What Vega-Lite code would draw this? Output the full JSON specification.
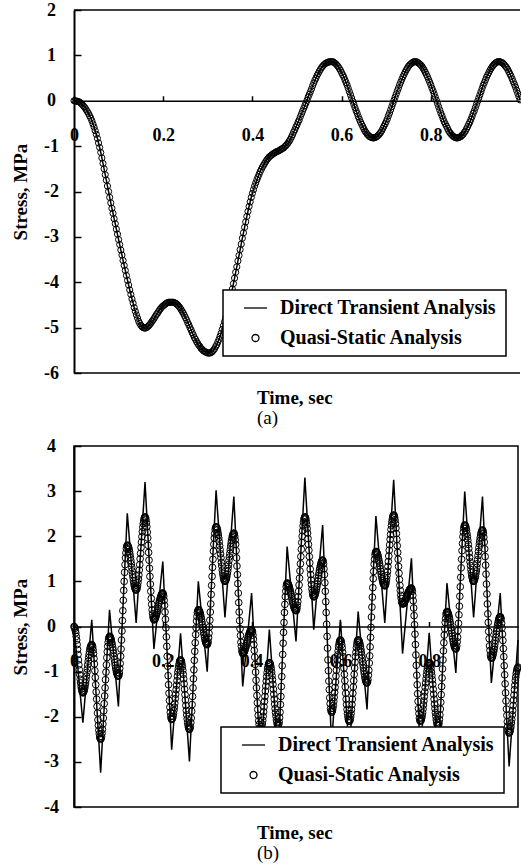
{
  "$schema": "https://vega.github.io/schema/vega-lite/v6.json",
  "background": "white",
  "padding": {"left": 10, "top": 1, "right": 0, "bottom": 0},
  "bounds": "flush",
  "spacing": 73,
  "resolve": {
    "scale": {"x": "independent", "y": "independent", "shape": "independent"},
    "legend": {"shape": "independent"},
    "axis": {"x": "independent", "y": "independent"}
  },
  "config": {
    "view": {"stroke": "black", "strokeWidth": 1.5},
    "axis": {
      "grid": false, "domainColor": "black", "tickColor": "black",
      "labelColor": "black", "titleColor": "black",
      "labelFont": "Liberation Serif", "labelFontWeight": "bold", "labelFontSize": 18,
      "titleFont": "Liberation Serif", "titleFontWeight": "bold", "titleFontSize": 19,
      "labelFlush": false, "labelOverlap": false
    },
    "axisX": {"tickSize": -5, "tickWidth": 1.5, "domainWidth": 1.5, "labelBaseline": "middle", "labelPadding": 39.5},
    "axisY": {"tickSize": -7, "tickWidth": 1.5, "domainWidth": 2, "labelAlign": "center", "labelPadding": 30, "titlePadding": 13},
    "legend": {
      "orient": "none", "strokeColor": "black", "strokeWidth": 1.5, "fillColor": "white",
      "padding": 8, "symbolOffset": 14.5, "symbolSize": 49, "symbolStrokeColor": "black",
      "symbolStrokeWidth": 1.3, "symbolFillColor": "transparent",
      "labelFont": "Liberation Serif", "labelFontSize": 20, "labelFontWeight": "bold",
      "labelColor": "black", "labelOffset": 14.5, "rowPadding": 10, "labelLimit": 400
    },
    "title": {
      "font": "Liberation Serif", "fontSize": 19, "fontWeight": "bold", "color": "black",
      "subtitleFont": "Liberation Serif", "subtitleFontSize": 19, "subtitleFontWeight": "normal",
      "subtitleColor": "black", "subtitlePadding": 1
    }
  },
  "datasets": {
    "a": [
      {"t":0,"v":0},{"t":0.0025,"v":0},{"t":0.005,"v":-0.01},{"t":0.0075,"v":-0.01},{"t":0.01,"v":-0.02},{"t":0.0125,"v":-0.03},{"t":0.015,"v":-0.05},{"t":0.0175,"v":-0.07},
      {"t":0.02,"v":-0.1},{"t":0.0225,"v":-0.13},{"t":0.025,"v":-0.16},{"t":0.0275,"v":-0.2},{"t":0.03,"v":-0.24},{"t":0.0325,"v":-0.28},{"t":0.035,"v":-0.33},{"t":0.0375,"v":-0.38},
      {"t":0.04,"v":-0.44},{"t":0.0425,"v":-0.51},{"t":0.045,"v":-0.58},{"t":0.0475,"v":-0.66},{"t":0.05,"v":-0.74},{"t":0.0525,"v":-0.83},{"t":0.055,"v":-0.93},{"t":0.0575,"v":-1.03},
      {"t":0.06,"v":-1.14},{"t":0.0625,"v":-1.26},{"t":0.065,"v":-1.38},{"t":0.0675,"v":-1.5},{"t":0.07,"v":-1.63},{"t":0.0725,"v":-1.75},{"t":0.075,"v":-1.88},{"t":0.0775,"v":-2.0},
      {"t":0.08,"v":-2.13},{"t":0.0825,"v":-2.25},{"t":0.085,"v":-2.37},{"t":0.0875,"v":-2.48},{"t":0.09,"v":-2.6},{"t":0.0925,"v":-2.71},{"t":0.095,"v":-2.83},{"t":0.0975,"v":-2.94},
      {"t":0.1,"v":-3.06},{"t":0.1025,"v":-3.17},{"t":0.105,"v":-3.29},{"t":0.1075,"v":-3.4},{"t":0.11,"v":-3.52},{"t":0.1125,"v":-3.63},{"t":0.115,"v":-3.74},{"t":0.1175,"v":-3.85},
      {"t":0.12,"v":-3.96},{"t":0.1225,"v":-4.06},{"t":0.125,"v":-4.17},{"t":0.1275,"v":-4.27},{"t":0.13,"v":-4.37},{"t":0.1325,"v":-4.46},{"t":0.135,"v":-4.56},{"t":0.1375,"v":-4.64},
      {"t":0.14,"v":-4.72},{"t":0.1425,"v":-4.79},{"t":0.145,"v":-4.86},{"t":0.1475,"v":-4.91},{"t":0.15,"v":-4.95},{"t":0.1525,"v":-4.98},{"t":0.155,"v":-5.0},{"t":0.1575,"v":-5.01},
      {"t":0.16,"v":-5.01},{"t":0.1625,"v":-5.0},{"t":0.165,"v":-4.98},{"t":0.1675,"v":-4.96},{"t":0.17,"v":-4.93},{"t":0.1725,"v":-4.9},{"t":0.175,"v":-4.86},{"t":0.1775,"v":-4.83},
      {"t":0.18,"v":-4.79},{"t":0.1825,"v":-4.75},{"t":0.185,"v":-4.71},{"t":0.1875,"v":-4.68},{"t":0.19,"v":-4.64},{"t":0.1925,"v":-4.6},{"t":0.195,"v":-4.57},{"t":0.1975,"v":-4.54},
      {"t":0.2,"v":-4.52},{"t":0.2025,"v":-4.5},{"t":0.205,"v":-4.48},{"t":0.2075,"v":-4.46},{"t":0.21,"v":-4.45},{"t":0.2125,"v":-4.44},{"t":0.215,"v":-4.44},{"t":0.2175,"v":-4.44},
      {"t":0.22,"v":-4.44},{"t":0.2225,"v":-4.44},{"t":0.225,"v":-4.45},{"t":0.2275,"v":-4.46},{"t":0.23,"v":-4.48},{"t":0.2325,"v":-4.5},{"t":0.235,"v":-4.53},{"t":0.2375,"v":-4.56},
      {"t":0.24,"v":-4.6},{"t":0.2425,"v":-4.64},{"t":0.245,"v":-4.68},{"t":0.2475,"v":-4.73},{"t":0.25,"v":-4.78},{"t":0.2525,"v":-4.83},{"t":0.255,"v":-4.89},{"t":0.2575,"v":-4.94},
      {"t":0.26,"v":-5.0},{"t":0.2625,"v":-5.05},{"t":0.265,"v":-5.11},{"t":0.2675,"v":-5.16},{"t":0.27,"v":-5.22},{"t":0.2725,"v":-5.26},{"t":0.275,"v":-5.31},{"t":0.2775,"v":-5.35},
      {"t":0.28,"v":-5.39},{"t":0.2825,"v":-5.42},{"t":0.285,"v":-5.46},{"t":0.2875,"v":-5.48},{"t":0.29,"v":-5.51},{"t":0.2925,"v":-5.52},{"t":0.295,"v":-5.54},{"t":0.2975,"v":-5.55},
      {"t":0.3,"v":-5.56},{"t":0.3025,"v":-5.56},{"t":0.305,"v":-5.56},{"t":0.3075,"v":-5.55},{"t":0.31,"v":-5.53},{"t":0.3125,"v":-5.5},{"t":0.315,"v":-5.47},{"t":0.3175,"v":-5.42},
      {"t":0.32,"v":-5.38},{"t":0.3225,"v":-5.32},{"t":0.325,"v":-5.26},{"t":0.3275,"v":-5.19},{"t":0.33,"v":-5.12},{"t":0.3325,"v":-5.04},{"t":0.335,"v":-4.96},{"t":0.3375,"v":-4.87},
      {"t":0.34,"v":-4.78},{"t":0.3425,"v":-4.68},{"t":0.345,"v":-4.59},{"t":0.3475,"v":-4.48},{"t":0.35,"v":-4.38},{"t":0.3525,"v":-4.26},{"t":0.355,"v":-4.15},{"t":0.3575,"v":-4.03},
      {"t":0.36,"v":-3.91},{"t":0.3625,"v":-3.78},{"t":0.365,"v":-3.66},{"t":0.3675,"v":-3.53},{"t":0.37,"v":-3.41},{"t":0.3725,"v":-3.28},{"t":0.375,"v":-3.16},{"t":0.3775,"v":-3.03},
      {"t":0.38,"v":-2.91},{"t":0.3825,"v":-2.79},{"t":0.385,"v":-2.67},{"t":0.3875,"v":-2.55},{"t":0.39,"v":-2.44},{"t":0.3925,"v":-2.33},{"t":0.395,"v":-2.23},{"t":0.3975,"v":-2.13},
      {"t":0.4,"v":-2.04},{"t":0.4025,"v":-1.96},{"t":0.405,"v":-1.88},{"t":0.4075,"v":-1.81},{"t":0.41,"v":-1.74},{"t":0.4125,"v":-1.68},{"t":0.415,"v":-1.62},{"t":0.4175,"v":-1.56},
      {"t":0.42,"v":-1.51},{"t":0.4225,"v":-1.46},{"t":0.425,"v":-1.42},{"t":0.4275,"v":-1.38},{"t":0.43,"v":-1.34},{"t":0.4325,"v":-1.3},{"t":0.435,"v":-1.27},{"t":0.4375,"v":-1.24},
      {"t":0.44,"v":-1.22},{"t":0.4425,"v":-1.2},{"t":0.445,"v":-1.18},{"t":0.4475,"v":-1.16},{"t":0.45,"v":-1.15},{"t":0.4525,"v":-1.13},{"t":0.455,"v":-1.12},{"t":0.4575,"v":-1.11},
      {"t":0.46,"v":-1.1},{"t":0.4625,"v":-1.08},{"t":0.465,"v":-1.07},{"t":0.4675,"v":-1.05},{"t":0.47,"v":-1.04},{"t":0.4725,"v":-1.01},{"t":0.475,"v":-0.99},{"t":0.4775,"v":-0.96},
      {"t":0.48,"v":-0.93},{"t":0.4825,"v":-0.89},{"t":0.485,"v":-0.85},{"t":0.4875,"v":-0.8},{"t":0.49,"v":-0.75},{"t":0.4925,"v":-0.69},{"t":0.495,"v":-0.64},{"t":0.4975,"v":-0.58},
      {"t":0.5,"v":-0.53},{"t":0.5025,"v":-0.47},{"t":0.505,"v":-0.42},{"t":0.5075,"v":-0.35},{"t":0.51,"v":-0.29},{"t":0.5125,"v":-0.23},{"t":0.515,"v":-0.17},{"t":0.5175,"v":-0.11},
      {"t":0.52,"v":-0.05},{"t":0.5225,"v":0.01},{"t":0.525,"v":0.08},{"t":0.5275,"v":0.14},{"t":0.53,"v":0.2},{"t":0.5325,"v":0.26},{"t":0.535,"v":0.33},{"t":0.5375,"v":0.39},
      {"t":0.54,"v":0.45},{"t":0.5425,"v":0.5},{"t":0.545,"v":0.56},{"t":0.5475,"v":0.6},{"t":0.55,"v":0.65},{"t":0.5525,"v":0.69},{"t":0.555,"v":0.73},{"t":0.5575,"v":0.76},
      {"t":0.56,"v":0.79},{"t":0.5625,"v":0.81},{"t":0.565,"v":0.83},{"t":0.5675,"v":0.84},{"t":0.57,"v":0.85},{"t":0.5725,"v":0.86},{"t":0.575,"v":0.86},{"t":0.5775,"v":0.86},
      {"t":0.58,"v":0.86},{"t":0.5825,"v":0.85},{"t":0.585,"v":0.83},{"t":0.5875,"v":0.81},{"t":0.59,"v":0.78},{"t":0.5925,"v":0.75},{"t":0.595,"v":0.71},{"t":0.5975,"v":0.67},
      {"t":0.6,"v":0.62},{"t":0.6025,"v":0.57},{"t":0.605,"v":0.52},{"t":0.6075,"v":0.46},{"t":0.61,"v":0.4},{"t":0.6125,"v":0.34},{"t":0.615,"v":0.27},{"t":0.6175,"v":0.2},
      {"t":0.62,"v":0.13},{"t":0.6225,"v":0.06},{"t":0.625,"v":-0.01},{"t":0.6275,"v":-0.08},{"t":0.63,"v":-0.15},{"t":0.6325,"v":-0.22},{"t":0.635,"v":-0.28},{"t":0.6375,"v":-0.35},
      {"t":0.64,"v":-0.41},{"t":0.6425,"v":-0.47},{"t":0.645,"v":-0.52},{"t":0.6475,"v":-0.57},{"t":0.65,"v":-0.62},{"t":0.6525,"v":-0.67},{"t":0.655,"v":-0.7},{"t":0.6575,"v":-0.74},
      {"t":0.66,"v":-0.76},{"t":0.6625,"v":-0.79},{"t":0.665,"v":-0.8},{"t":0.6675,"v":-0.81},{"t":0.67,"v":-0.82},{"t":0.6725,"v":-0.82},{"t":0.675,"v":-0.81},{"t":0.6775,"v":-0.8},
      {"t":0.68,"v":-0.78},{"t":0.6825,"v":-0.76},{"t":0.685,"v":-0.73},{"t":0.6875,"v":-0.7},{"t":0.69,"v":-0.66},{"t":0.6925,"v":-0.61},{"t":0.695,"v":-0.56},{"t":0.6975,"v":-0.51},
      {"t":0.7,"v":-0.46},{"t":0.7025,"v":-0.4},{"t":0.705,"v":-0.33},{"t":0.7075,"v":-0.27},{"t":0.71,"v":-0.2},{"t":0.7125,"v":-0.13},{"t":0.715,"v":-0.06},{"t":0.7175,"v":0.01},
      {"t":0.72,"v":0.08},{"t":0.7225,"v":0.15},{"t":0.725,"v":0.22},{"t":0.7275,"v":0.28},{"t":0.73,"v":0.35},{"t":0.7325,"v":0.41},{"t":0.735,"v":0.47},{"t":0.7375,"v":0.53},
      {"t":0.74,"v":0.58},{"t":0.7425,"v":0.63},{"t":0.745,"v":0.68},{"t":0.7475,"v":0.72},{"t":0.75,"v":0.76},{"t":0.7525,"v":0.79},{"t":0.755,"v":0.81},{"t":0.7575,"v":0.83},
      {"t":0.76,"v":0.85},{"t":0.7625,"v":0.86},{"t":0.765,"v":0.86},{"t":0.7675,"v":0.86},{"t":0.77,"v":0.85},{"t":0.7725,"v":0.83},{"t":0.775,"v":0.81},{"t":0.7775,"v":0.79},
      {"t":0.78,"v":0.76},{"t":0.7825,"v":0.72},{"t":0.785,"v":0.68},{"t":0.7875,"v":0.63},{"t":0.79,"v":0.58},{"t":0.7925,"v":0.53},{"t":0.795,"v":0.47},{"t":0.7975,"v":0.41},
      {"t":0.8,"v":0.35},{"t":0.8025,"v":0.28},{"t":0.805,"v":0.22},{"t":0.8075,"v":0.15},{"t":0.81,"v":0.08},{"t":0.8125,"v":0.01},{"t":0.815,"v":-0.06},{"t":0.8175,"v":-0.13},
      {"t":0.82,"v":-0.2},{"t":0.8225,"v":-0.27},{"t":0.825,"v":-0.33},{"t":0.8275,"v":-0.4},{"t":0.83,"v":-0.46},{"t":0.8325,"v":-0.51},{"t":0.835,"v":-0.56},{"t":0.8375,"v":-0.61},
      {"t":0.84,"v":-0.66},{"t":0.8425,"v":-0.7},{"t":0.845,"v":-0.73},{"t":0.8475,"v":-0.76},{"t":0.85,"v":-0.78},{"t":0.8525,"v":-0.8},{"t":0.855,"v":-0.81},{"t":0.8575,"v":-0.82},
      {"t":0.86,"v":-0.82},{"t":0.8625,"v":-0.81},{"t":0.865,"v":-0.8},{"t":0.8675,"v":-0.79},{"t":0.87,"v":-0.76},{"t":0.8725,"v":-0.74},{"t":0.875,"v":-0.7},{"t":0.8775,"v":-0.67},
      {"t":0.88,"v":-0.62},{"t":0.8825,"v":-0.57},{"t":0.885,"v":-0.52},{"t":0.8875,"v":-0.47},{"t":0.89,"v":-0.41},{"t":0.8925,"v":-0.35},{"t":0.895,"v":-0.28},{"t":0.8975,"v":-0.22},
      {"t":0.9,"v":-0.15},{"t":0.9025,"v":-0.08},{"t":0.905,"v":-0.01},{"t":0.9075,"v":0.06},{"t":0.91,"v":0.13},{"t":0.9125,"v":0.2},{"t":0.915,"v":0.27},{"t":0.9175,"v":0.34},
      {"t":0.92,"v":0.4},{"t":0.9225,"v":0.46},{"t":0.925,"v":0.52},{"t":0.9275,"v":0.57},{"t":0.93,"v":0.62},{"t":0.9325,"v":0.67},{"t":0.935,"v":0.71},{"t":0.9375,"v":0.75},
      {"t":0.94,"v":0.78},{"t":0.9425,"v":0.81},{"t":0.945,"v":0.83},{"t":0.9475,"v":0.85},{"t":0.95,"v":0.86},{"t":0.9525,"v":0.86},{"t":0.955,"v":0.86},{"t":0.9575,"v":0.85},
      {"t":0.96,"v":0.84},{"t":0.9625,"v":0.82},{"t":0.965,"v":0.79},{"t":0.9675,"v":0.76},{"t":0.97,"v":0.73},{"t":0.9725,"v":0.69},{"t":0.975,"v":0.64},{"t":0.9775,"v":0.59},
      {"t":0.98,"v":0.54},{"t":0.9825,"v":0.48},{"t":0.985,"v":0.42},{"t":0.9875,"v":0.36},{"t":0.99,"v":0.3},{"t":0.9925,"v":0.23},{"t":0.995,"v":0.16},{"t":0.9975,"v":0.09},
      {"t":1.0,"v":0.02}
    ],
    "bd": [
      {"t":0,"v":0},{"t":0.02,"v":-2.13},{"t":0.04,"v":0.15},{"t":0.06,"v":-3.24},{"t":0.08,"v":0.37},
      {"t":0.1,"v":-1.77},{"t":0.12,"v":2.51},{"t":0.14,"v":0.08},{"t":0.16,"v":3.2},{"t":0.18,"v":-0.5},
      {"t":0.2,"v":1.44},{"t":0.22,"v":-2.73},{"t":0.24,"v":-0.15},{"t":0.26,"v":-2.99},{"t":0.28,"v":1.0},
      {"t":0.3,"v":-1.0},{"t":0.32,"v":3.02},{"t":0.34,"v":0.2},{"t":0.36,"v":2.88},{"t":0.38,"v":-1.33},
      {"t":0.4,"v":0.74},{"t":0.42,"v":-3.0},{"t":0.44,"v":-0.07},{"t":0.46,"v":-2.9},{"t":0.48,"v":1.77},
      {"t":0.5,"v":-0.33},{"t":0.52,"v":3.3},{"t":0.54,"v":-0.07},{"t":0.56,"v":2.25},{"t":0.58,"v":-2.6},
      {"t":0.6,"v":0.15},{"t":0.62,"v":-2.8},{"t":0.64,"v":0.33},{"t":0.66,"v":-1.84},{"t":0.68,"v":2.45},
      {"t":0.7,"v":0.08},{"t":0.72,"v":3.25},{"t":0.74,"v":-0.6},{"t":0.76,"v":1.51},{"t":0.78,"v":-2.8},
      {"t":0.8,"v":-0.14},{"t":0.82,"v":-2.9},{"t":0.84,"v":0.96},{"t":0.86,"v":-1.03},{"t":0.88,"v":2.99},
      {"t":0.9,"v":0.2},{"t":0.92,"v":2.88},{"t":0.94,"v":-1.25},{"t":0.96,"v":0.74},{"t":0.98,"v":-3.1},
      {"t":1.0,"v":-0.3}
    ],
    "bq": [
      {"t":0.000,"v":0},{"t":0.001,"v":-0.01},{"t":0.002,"v":-0.04},{"t":0.003,"v":-0.09},{"t":0.004,"v":-0.14},{"t":0.005,"v":-0.22},{"t":0.006,"v":-0.30},{"t":0.007,"v":-0.40},{"t":0.008,"v":-0.51},{"t":0.009,"v":-0.62},
      {"t":0.010,"v":-0.74},{"t":0.011,"v":-0.85},{"t":0.012,"v":-0.96},{"t":0.013,"v":-1.07},{"t":0.014,"v":-1.17},{"t":0.015,"v":-1.25},{"t":0.016,"v":-1.33},{"t":0.017,"v":-1.38},{"t":0.018,"v":-1.43},{"t":0.019,"v":-1.46},
      {"t":0.020,"v":-1.47},{"t":0.021,"v":-1.46},{"t":0.022,"v":-1.44},{"t":0.023,"v":-1.41},{"t":0.024,"v":-1.37},{"t":0.025,"v":-1.31},{"t":0.026,"v":-1.25},{"t":0.027,"v":-1.18},{"t":0.028,"v":-1.10},{"t":0.029,"v":-1.02},
      {"t":0.030,"v":-0.94},{"t":0.031,"v":-0.85},{"t":0.032,"v":-0.77},{"t":0.033,"v":-0.69},{"t":0.034,"v":-0.62},{"t":0.035,"v":-0.56},{"t":0.036,"v":-0.50},{"t":0.037,"v":-0.46},{"t":0.038,"v":-0.43},{"t":0.039,"v":-0.41},
      {"t":0.040,"v":-0.40},{"t":0.041,"v":-0.42},{"t":0.042,"v":-0.45},{"t":0.043,"v":-0.52},{"t":0.044,"v":-0.60},{"t":0.045,"v":-0.71},{"t":0.046,"v":-0.83},{"t":0.047,"v":-0.98},{"t":0.048,"v":-1.13},{"t":0.049,"v":-1.29},
      {"t":0.050,"v":-1.45},{"t":0.051,"v":-1.61},{"t":0.052,"v":-1.77},{"t":0.053,"v":-1.92},{"t":0.054,"v":-2.07},{"t":0.055,"v":-2.19},{"t":0.056,"v":-2.30},{"t":0.057,"v":-2.38},{"t":0.058,"v":-2.45},{"t":0.059,"v":-2.48},
      {"t":0.060,"v":-2.50},{"t":0.061,"v":-2.48},{"t":0.062,"v":-2.44},{"t":0.063,"v":-2.37},{"t":0.064,"v":-2.28},{"t":0.065,"v":-2.16},{"t":0.066,"v":-2.03},{"t":0.067,"v":-1.87},{"t":0.068,"v":-1.71},{"t":0.069,"v":-1.54},
      {"t":0.070,"v":-1.36},{"t":0.071,"v":-1.18},{"t":0.072,"v":-1.01},{"t":0.073,"v":-0.85},{"t":0.074,"v":-0.69},{"t":0.075,"v":-0.56},{"t":0.076,"v":-0.44},{"t":0.077,"v":-0.35},{"t":0.078,"v":-0.28},{"t":0.079,"v":-0.24},
      {"t":0.080,"v":-0.22},{"t":0.081,"v":-0.22},{"t":0.082,"v":-0.24},{"t":0.083,"v":-0.27},{"t":0.084,"v":-0.30},{"t":0.085,"v":-0.35},{"t":0.086,"v":-0.40},{"t":0.087,"v":-0.46},{"t":0.088,"v":-0.52},{"t":0.089,"v":-0.59},
      {"t":0.090,"v":-0.66},{"t":0.091,"v":-0.73},{"t":0.092,"v":-0.80},{"t":0.093,"v":-0.86},{"t":0.094,"v":-0.92},{"t":0.095,"v":-0.97},{"t":0.096,"v":-1.02},{"t":0.097,"v":-1.05},{"t":0.098,"v":-1.08},{"t":0.099,"v":-1.10},
      {"t":0.100,"v":-1.10},{"t":0.101,"v":-1.08},{"t":0.102,"v":-1.03},{"t":0.103,"v":-0.93},{"t":0.104,"v":-0.82},{"t":0.105,"v":-0.66},{"t":0.106,"v":-0.50},{"t":0.107,"v":-0.30},{"t":0.108,"v":-0.10},{"t":0.109,"v":0.13},
      {"t":0.110,"v":0.35},{"t":0.111,"v":0.58},{"t":0.112,"v":0.80},{"t":0.113,"v":1.00},{"t":0.114,"v":1.20},{"t":0.115,"v":1.37},{"t":0.116,"v":1.52},{"t":0.117,"v":1.63},{"t":0.118,"v":1.73},{"t":0.119,"v":1.78},
      {"t":0.120,"v":1.80},{"t":0.121,"v":1.80},{"t":0.122,"v":1.78},{"t":0.123,"v":1.75},{"t":0.124,"v":1.71},{"t":0.125,"v":1.66},{"t":0.126,"v":1.60},{"t":0.127,"v":1.53},{"t":0.128,"v":1.46},{"t":0.129,"v":1.39},
      {"t":0.130,"v":1.31},{"t":0.131,"v":1.23},{"t":0.132,"v":1.15},{"t":0.133,"v":1.08},{"t":0.134,"v":1.01},{"t":0.135,"v":0.95},{"t":0.136,"v":0.90},{"t":0.137,"v":0.86},{"t":0.138,"v":0.83},{"t":0.139,"v":0.81},
      {"t":0.140,"v":0.81},{"t":0.141,"v":0.82},{"t":0.142,"v":0.85},{"t":0.143,"v":0.90},{"t":0.144,"v":0.97},{"t":0.145,"v":1.05},{"t":0.146,"v":1.14},{"t":0.147,"v":1.25},{"t":0.148,"v":1.37},{"t":0.149,"v":1.50},
      {"t":0.150,"v":1.62},{"t":0.151,"v":1.75},{"t":0.152,"v":1.87},{"t":0.153,"v":1.99},{"t":0.154,"v":2.10},{"t":0.155,"v":2.20},{"t":0.156,"v":2.28},{"t":0.157,"v":2.34},{"t":0.158,"v":2.39},{"t":0.159,"v":2.42},
      {"t":0.160,"v":2.43},{"t":0.161,"v":2.41},{"t":0.162,"v":2.37},{"t":0.163,"v":2.30},{"t":0.164,"v":2.21},{"t":0.165,"v":2.09},{"t":0.166,"v":1.96},{"t":0.167,"v":1.80},{"t":0.168,"v":1.64},{"t":0.169,"v":1.47},
      {"t":0.170,"v":1.29},{"t":0.171,"v":1.11},{"t":0.172,"v":0.94},{"t":0.173,"v":0.78},{"t":0.174,"v":0.62},{"t":0.175,"v":0.49},{"t":0.176,"v":0.37},{"t":0.177,"v":0.28},{"t":0.178,"v":0.21},{"t":0.179,"v":0.17},
      {"t":0.180,"v":0.15},{"t":0.181,"v":0.15},{"t":0.182,"v":0.16},{"t":0.183,"v":0.18},{"t":0.184,"v":0.21},{"t":0.185,"v":0.24},{"t":0.186,"v":0.27},{"t":0.187,"v":0.31},{"t":0.188,"v":0.35},{"t":0.189,"v":0.40},
      {"t":0.190,"v":0.45},{"t":0.191,"v":0.50},{"t":0.192,"v":0.54},{"t":0.193,"v":0.58},{"t":0.194,"v":0.62},{"t":0.195,"v":0.65},{"t":0.196,"v":0.68},{"t":0.197,"v":0.71},{"t":0.198,"v":0.73},{"t":0.199,"v":0.74},
      {"t":0.200,"v":0.74},{"t":0.201,"v":0.72},{"t":0.202,"v":0.67},{"t":0.203,"v":0.58},{"t":0.204,"v":0.47},{"t":0.205,"v":0.32},{"t":0.206,"v":0.16},{"t":0.207,"v":-0.03},{"t":0.208,"v":-0.23},{"t":0.209,"v":-0.44},
      {"t":0.210,"v":-0.66},{"t":0.211,"v":-0.88},{"t":0.212,"v":-1.09},{"t":0.213,"v":-1.29},{"t":0.214,"v":-1.48},{"t":0.215,"v":-1.64},{"t":0.216,"v":-1.79},{"t":0.217,"v":-1.90},{"t":0.218,"v":-1.99},{"t":0.219,"v":-2.04},
      {"t":0.220,"v":-2.06},{"t":0.221,"v":-2.05},{"t":0.222,"v":-2.03},{"t":0.223,"v":-1.99},{"t":0.224,"v":-1.93},{"t":0.225,"v":-1.86},{"t":0.226,"v":-1.79},{"t":0.227,"v":-1.70},{"t":0.228,"v":-1.60},{"t":0.229,"v":-1.50},
      {"t":0.230,"v":-1.40},{"t":0.231,"v":-1.30},{"t":0.232,"v":-1.20},{"t":0.233,"v":-1.10},{"t":0.234,"v":-1.01},{"t":0.235,"v":-0.94},{"t":0.236,"v":-0.87},{"t":0.237,"v":-0.82},{"t":0.238,"v":-0.77},{"t":0.239,"v":-0.75},
      {"t":0.240,"v":-0.74},{"t":0.241,"v":-0.75},{"t":0.242,"v":-0.78},{"t":0.243,"v":-0.83},{"t":0.244,"v":-0.89},{"t":0.245,"v":-0.97},{"t":0.246,"v":-1.06},{"t":0.247,"v":-1.16},{"t":0.248,"v":-1.27},{"t":0.249,"v":-1.39},
      {"t":0.250,"v":-1.51},{"t":0.251,"v":-1.63},{"t":0.252,"v":-1.75},{"t":0.253,"v":-1.86},{"t":0.254,"v":-1.96},{"t":0.255,"v":-2.05},{"t":0.256,"v":-2.13},{"t":0.257,"v":-2.19},{"t":0.258,"v":-2.24},{"t":0.259,"v":-2.27},
      {"t":0.260,"v":-2.28},{"t":0.261,"v":-2.26},{"t":0.262,"v":-2.22},{"t":0.263,"v":-2.13},{"t":0.264,"v":-2.03},{"t":0.265,"v":-1.88},{"t":0.266,"v":-1.73},{"t":0.267,"v":-1.55},{"t":0.268,"v":-1.36},{"t":0.269,"v":-1.16},
      {"t":0.270,"v":-0.96},{"t":0.271,"v":-0.75},{"t":0.272,"v":-0.55},{"t":0.273,"v":-0.36},{"t":0.274,"v":-0.18},{"t":0.275,"v":-0.03},{"t":0.276,"v":0.12},{"t":0.277,"v":0.22},{"t":0.278,"v":0.31},{"t":0.279,"v":0.35},
      {"t":0.280,"v":0.37},{"t":0.281,"v":0.37},{"t":0.282,"v":0.35},{"t":0.283,"v":0.33},{"t":0.284,"v":0.30},{"t":0.285,"v":0.26},{"t":0.286,"v":0.21},{"t":0.287,"v":0.16},{"t":0.288,"v":0.10},{"t":0.289,"v":0.04},
      {"t":0.290,"v":-0.02},{"t":0.291,"v":-0.07},{"t":0.292,"v":-0.13},{"t":0.293,"v":-0.18},{"t":0.294,"v":-0.24},{"t":0.295,"v":-0.29},{"t":0.296,"v":-0.33},{"t":0.297,"v":-0.36},{"t":0.298,"v":-0.38},{"t":0.299,"v":-0.40},
      {"t":0.300,"v":-0.40},{"t":0.301,"v":-0.38},{"t":0.302,"v":-0.34},{"t":0.303,"v":-0.25},{"t":0.304,"v":-0.15},{"t":0.305,"v":-0.01},{"t":0.306,"v":0.14},{"t":0.307,"v":0.32},{"t":0.308,"v":0.50},{"t":0.309,"v":0.71},
      {"t":0.310,"v":0.91},{"t":0.311,"v":1.11},{"t":0.312,"v":1.31},{"t":0.313,"v":1.49},{"t":0.314,"v":1.67},{"t":0.315,"v":1.82},{"t":0.316,"v":1.96},{"t":0.317,"v":2.06},{"t":0.318,"v":2.15},{"t":0.319,"v":2.19},
      {"t":0.320,"v":2.21},{"t":0.321,"v":2.20},{"t":0.322,"v":2.18},{"t":0.323,"v":2.14},{"t":0.324,"v":2.09},{"t":0.325,"v":2.03},{"t":0.326,"v":1.96},{"t":0.327,"v":1.88},{"t":0.328,"v":1.79},{"t":0.329,"v":1.70},
      {"t":0.330,"v":1.61},{"t":0.331,"v":1.52},{"t":0.332,"v":1.42},{"t":0.333,"v":1.34},{"t":0.334,"v":1.25},{"t":0.335,"v":1.18},{"t":0.336,"v":1.12},{"t":0.337,"v":1.07},{"t":0.338,"v":1.03},{"t":0.339,"v":1.01},
      {"t":0.340,"v":1.00},{"t":0.341,"v":1.01},{"t":0.342,"v":1.03},{"t":0.343,"v":1.06},{"t":0.344,"v":1.10},{"t":0.345,"v":1.16},{"t":0.346,"v":1.22},{"t":0.347,"v":1.29},{"t":0.348,"v":1.37},{"t":0.349,"v":1.46},
      {"t":0.350,"v":1.54},{"t":0.351,"v":1.62},{"t":0.352,"v":1.70},{"t":0.353,"v":1.78},{"t":0.354,"v":1.85},{"t":0.355,"v":1.91},{"t":0.356,"v":1.97},{"t":0.357,"v":2.01},{"t":0.358,"v":2.04},{"t":0.359,"v":2.06},
      {"t":0.360,"v":2.07},{"t":0.361,"v":2.05},{"t":0.362,"v":2.00},{"t":0.363,"v":1.92},{"t":0.364,"v":1.82},{"t":0.365,"v":1.68},{"t":0.366,"v":1.52},{"t":0.367,"v":1.34},{"t":0.368,"v":1.15},{"t":0.369,"v":0.95},
      {"t":0.370,"v":0.74},{"t":0.371,"v":0.53},{"t":0.372,"v":0.32},{"t":0.373,"v":0.13},{"t":0.374,"v":-0.05},{"t":0.375,"v":-0.20},{"t":0.376,"v":-0.35},{"t":0.377,"v":-0.44},{"t":0.378,"v":-0.53},{"t":0.379,"v":-0.57},
      {"t":0.380,"v":-0.60},{"t":0.381,"v":-0.60},{"t":0.382,"v":-0.59},{"t":0.383,"v":-0.57},{"t":0.384,"v":-0.55},{"t":0.385,"v":-0.52},{"t":0.386,"v":-0.49},{"t":0.387,"v":-0.46},{"t":0.388,"v":-0.42},{"t":0.389,"v":-0.38},
      {"t":0.390,"v":-0.34},{"t":0.391,"v":-0.30},{"t":0.392,"v":-0.25},{"t":0.393,"v":-0.21},{"t":0.394,"v":-0.18},{"t":0.395,"v":-0.15},{"t":0.396,"v":-0.12},{"t":0.397,"v":-0.10},{"t":0.398,"v":-0.08},{"t":0.399,"v":-0.07},
      {"t":0.400,"v":-0.07},{"t":0.401,"v":-0.09},{"t":0.402,"v":-0.12},{"t":0.403,"v":-0.19},{"t":0.404,"v":-0.28},{"t":0.405,"v":-0.40},{"t":0.406,"v":-0.53},{"t":0.407,"v":-0.68},{"t":0.408,"v":-0.84},{"t":0.409,"v":-1.01},
      {"t":0.410,"v":-1.19},{"t":0.411,"v":-1.36},{"t":0.412,"v":-1.53},{"t":0.413,"v":-1.69},{"t":0.414,"v":-1.84},{"t":0.415,"v":-1.97},{"t":0.416,"v":-2.09},{"t":0.417,"v":-2.17},{"t":0.418,"v":-2.25},{"t":0.419,"v":-2.28},
      {"t":0.420,"v":-2.30},{"t":0.421,"v":-2.29},{"t":0.422,"v":-2.26},{"t":0.423,"v":-2.22},{"t":0.424,"v":-2.16},{"t":0.425,"v":-2.08},{"t":0.426,"v":-1.99},{"t":0.427,"v":-1.89},{"t":0.428,"v":-1.78},{"t":0.429,"v":-1.66},
      {"t":0.430,"v":-1.55},{"t":0.431,"v":-1.43},{"t":0.432,"v":-1.32},{"t":0.433,"v":-1.21},{"t":0.434,"v":-1.11},{"t":0.435,"v":-1.02},{"t":0.436,"v":-0.94},{"t":0.437,"v":-0.89},{"t":0.438,"v":-0.84},{"t":0.439,"v":-0.81},
      {"t":0.440,"v":-0.80},{"t":0.441,"v":-0.81},{"t":0.442,"v":-0.83},{"t":0.443,"v":-0.87},{"t":0.444,"v":-0.93},{"t":0.445,"v":-1.01},{"t":0.446,"v":-1.09},{"t":0.447,"v":-1.18},{"t":0.448,"v":-1.28},{"t":0.449,"v":-1.39},
      {"t":0.450,"v":-1.50},{"t":0.451,"v":-1.61},{"t":0.452,"v":-1.72},{"t":0.453,"v":-1.82},{"t":0.454,"v":-1.91},{"t":0.455,"v":-1.99},{"t":0.456,"v":-2.07},{"t":0.457,"v":-2.12},{"t":0.458,"v":-2.17},{"t":0.459,"v":-2.19},
      {"t":0.460,"v":-2.20},{"t":0.461,"v":-2.17},{"t":0.462,"v":-2.12},{"t":0.463,"v":-2.02},{"t":0.464,"v":-1.90},{"t":0.465,"v":-1.73},{"t":0.466,"v":-1.55},{"t":0.467,"v":-1.33},{"t":0.468,"v":-1.11},{"t":0.469,"v":-0.87},
      {"t":0.470,"v":-0.62},{"t":0.471,"v":-0.37},{"t":0.472,"v":-0.13},{"t":0.473,"v":0.09},{"t":0.474,"v":0.31},{"t":0.475,"v":0.49},{"t":0.476,"v":0.66},{"t":0.477,"v":0.78},{"t":0.478,"v":0.88},{"t":0.479,"v":0.93},
      {"t":0.480,"v":0.96},{"t":0.481,"v":0.96},{"t":0.482,"v":0.95},{"t":0.483,"v":0.93},{"t":0.484,"v":0.90},{"t":0.485,"v":0.87},{"t":0.486,"v":0.83},{"t":0.487,"v":0.79},{"t":0.488,"v":0.75},{"t":0.489,"v":0.71},
      {"t":0.490,"v":0.66},{"t":0.491,"v":0.61},{"t":0.492,"v":0.56},{"t":0.493,"v":0.52},{"t":0.494,"v":0.48},{"t":0.495,"v":0.44},{"t":0.496,"v":0.41},{"t":0.497,"v":0.39},{"t":0.498,"v":0.37},{"t":0.499,"v":0.36},
      {"t":0.500,"v":0.35},{"t":0.501,"v":0.36},{"t":0.502,"v":0.40},{"t":0.503,"v":0.47},{"t":0.504,"v":0.55},{"t":0.505,"v":0.66},{"t":0.506,"v":0.78},{"t":0.507,"v":0.92},{"t":0.508,"v":1.07},{"t":0.509,"v":1.23},
      {"t":0.510,"v":1.39},{"t":0.511,"v":1.55},{"t":0.512,"v":1.71},{"t":0.513,"v":1.86},{"t":0.514,"v":2.00},{"t":0.515,"v":2.12},{"t":0.516,"v":2.23},{"t":0.517,"v":2.31},{"t":0.518,"v":2.38},{"t":0.519,"v":2.41},
      {"t":0.520,"v":2.43},{"t":0.521,"v":2.42},{"t":0.522,"v":2.39},{"t":0.523,"v":2.33},{"t":0.524,"v":2.26},{"t":0.525,"v":2.17},{"t":0.526,"v":2.07},{"t":0.527,"v":1.95},{"t":0.528,"v":1.82},{"t":0.529,"v":1.69},
      {"t":0.530,"v":1.55},{"t":0.531,"v":1.41},{"t":0.532,"v":1.27},{"t":0.533,"v":1.15},{"t":0.534,"v":1.03},{"t":0.535,"v":0.93},{"t":0.536,"v":0.83},{"t":0.537,"v":0.76},{"t":0.538,"v":0.70},{"t":0.539,"v":0.67},
      {"t":0.540,"v":0.66},{"t":0.541,"v":0.66},{"t":0.542,"v":0.68},{"t":0.543,"v":0.71},{"t":0.544,"v":0.74},{"t":0.545,"v":0.78},{"t":0.546,"v":0.83},{"t":0.547,"v":0.88},{"t":0.548,"v":0.94},{"t":0.549,"v":1.01},
      {"t":0.550,"v":1.07},{"t":0.551,"v":1.13},{"t":0.552,"v":1.19},{"t":0.553,"v":1.25},{"t":0.554,"v":1.30},{"t":0.555,"v":1.35},{"t":0.556,"v":1.39},{"t":0.557,"v":1.42},{"t":0.558,"v":1.45},{"t":0.559,"v":1.47},
      {"t":0.560,"v":1.47},{"t":0.561,"v":1.45},{"t":0.562,"v":1.39},{"t":0.563,"v":1.28},{"t":0.564,"v":1.15},{"t":0.565,"v":0.97},{"t":0.566,"v":0.78},{"t":0.567,"v":0.55},{"t":0.568,"v":0.31},{"t":0.569,"v":0.05},
      {"t":0.570,"v":-0.22},{"t":0.571,"v":-0.48},{"t":0.572,"v":-0.74},{"t":0.573,"v":-0.98},{"t":0.574,"v":-1.21},{"t":0.575,"v":-1.40},{"t":0.576,"v":-1.58},{"t":0.577,"v":-1.71},{"t":0.578,"v":-1.82},{"t":0.579,"v":-1.87},
      {"t":0.580,"v":-1.90},{"t":0.581,"v":-1.89},{"t":0.582,"v":-1.86},{"t":0.583,"v":-1.81},{"t":0.584,"v":-1.75},{"t":0.585,"v":-1.66},{"t":0.586,"v":-1.57},{"t":0.587,"v":-1.46},{"t":0.588,"v":-1.35},{"t":0.589,"v":-1.23},
      {"t":0.590,"v":-1.10},{"t":0.591,"v":-0.97},{"t":0.592,"v":-0.85},{"t":0.593,"v":-0.74},{"t":0.594,"v":-0.63},{"t":0.595,"v":-0.54},{"t":0.596,"v":-0.45},{"t":0.597,"v":-0.39},{"t":0.598,"v":-0.34},{"t":0.599,"v":-0.31},
      {"t":0.600,"v":-0.30},{"t":0.601,"v":-0.31},{"t":0.602,"v":-0.34},{"t":0.603,"v":-0.40},{"t":0.604,"v":-0.47},{"t":0.605,"v":-0.57},{"t":0.606,"v":-0.67},{"t":0.607,"v":-0.79},{"t":0.608,"v":-0.92},{"t":0.609,"v":-1.06},
      {"t":0.610,"v":-1.20},{"t":0.611,"v":-1.34},{"t":0.612,"v":-1.48},{"t":0.613,"v":-1.61},{"t":0.614,"v":-1.73},{"t":0.615,"v":-1.84},{"t":0.616,"v":-1.93},{"t":0.617,"v":-2.00},{"t":0.618,"v":-2.06},{"t":0.619,"v":-2.09},
      {"t":0.620,"v":-2.10},{"t":0.621,"v":-2.09},{"t":0.622,"v":-2.06},{"t":0.623,"v":-2.00},{"t":0.624,"v":-1.93},{"t":0.625,"v":-1.84},{"t":0.626,"v":-1.73},{"t":0.627,"v":-1.61},{"t":0.628,"v":-1.48},{"t":0.629,"v":-1.34},
      {"t":0.630,"v":-1.20},{"t":0.631,"v":-1.06},{"t":0.632,"v":-0.92},{"t":0.633,"v":-0.79},{"t":0.634,"v":-0.67},{"t":0.635,"v":-0.57},{"t":0.636,"v":-0.47},{"t":0.637,"v":-0.40},{"t":0.638,"v":-0.34},{"t":0.639,"v":-0.31},
      {"t":0.640,"v":-0.30},{"t":0.641,"v":-0.30},{"t":0.642,"v":-0.32},{"t":0.643,"v":-0.35},{"t":0.644,"v":-0.39},{"t":0.645,"v":-0.44},{"t":0.646,"v":-0.50},{"t":0.647,"v":-0.56},{"t":0.648,"v":-0.63},{"t":0.649,"v":-0.70},
      {"t":0.650,"v":-0.78},{"t":0.651,"v":-0.85},{"t":0.652,"v":-0.92},{"t":0.653,"v":-0.99},{"t":0.654,"v":-1.05},{"t":0.655,"v":-1.11},{"t":0.656,"v":-1.16},{"t":0.657,"v":-1.20},{"t":0.658,"v":-1.23},{"t":0.659,"v":-1.25},
      {"t":0.660,"v":-1.25},{"t":0.661,"v":-1.23},{"t":0.662,"v":-1.18},{"t":0.663,"v":-1.08},{"t":0.664,"v":-0.97},{"t":0.665,"v":-0.81},{"t":0.666,"v":-0.65},{"t":0.667,"v":-0.45},{"t":0.668,"v":-0.24},{"t":0.669,"v":-0.02},
      {"t":0.670,"v":0.21},{"t":0.671,"v":0.43},{"t":0.672,"v":0.65},{"t":0.673,"v":0.86},{"t":0.674,"v":1.06},{"t":0.675,"v":1.22},{"t":0.676,"v":1.38},{"t":0.677,"v":1.49},{"t":0.678,"v":1.59},{"t":0.679,"v":1.64},
      {"t":0.680,"v":1.66},{"t":0.681,"v":1.66},{"t":0.682,"v":1.64},{"t":0.683,"v":1.62},{"t":0.684,"v":1.59},{"t":0.685,"v":1.55},{"t":0.686,"v":1.50},{"t":0.687,"v":1.45},{"t":0.688,"v":1.40},{"t":0.689,"v":1.34},
      {"t":0.690,"v":1.28},{"t":0.691,"v":1.22},{"t":0.692,"v":1.16},{"t":0.693,"v":1.11},{"t":0.694,"v":1.06},{"t":0.695,"v":1.01},{"t":0.696,"v":0.97},{"t":0.697,"v":0.94},{"t":0.698,"v":0.92},{"t":0.699,"v":0.91},
      {"t":0.700,"v":0.90},{"t":0.701,"v":0.91},{"t":0.702,"v":0.94},{"t":0.703,"v":0.99},{"t":0.704,"v":1.05},{"t":0.705,"v":1.13},{"t":0.706,"v":1.22},{"t":0.707,"v":1.33},{"t":0.708,"v":1.44},{"t":0.709,"v":1.56},
      {"t":0.710,"v":1.69},{"t":0.711,"v":1.81},{"t":0.712,"v":1.93},{"t":0.713,"v":2.04},{"t":0.714,"v":2.15},{"t":0.715,"v":2.24},{"t":0.716,"v":2.32},{"t":0.717,"v":2.38},{"t":0.718,"v":2.43},{"t":0.719,"v":2.46},
      {"t":0.720,"v":2.47},{"t":0.721,"v":2.46},{"t":0.722,"v":2.42},{"t":0.723,"v":2.36},{"t":0.724,"v":2.28},{"t":0.725,"v":2.18},{"t":0.726,"v":2.06},{"t":0.727,"v":1.93},{"t":0.728,"v":1.79},{"t":0.729,"v":1.64},
      {"t":0.730,"v":1.49},{"t":0.731,"v":1.33},{"t":0.732,"v":1.18},{"t":0.733,"v":1.04},{"t":0.734,"v":0.91},{"t":0.735,"v":0.80},{"t":0.736,"v":0.69},{"t":0.737,"v":0.62},{"t":0.738,"v":0.55},{"t":0.739,"v":0.52},
      {"t":0.740,"v":0.50},{"t":0.741,"v":0.50},{"t":0.742,"v":0.51},{"t":0.743,"v":0.52},{"t":0.744,"v":0.53},{"t":0.745,"v":0.55},{"t":0.746,"v":0.57},{"t":0.747,"v":0.60},{"t":0.748,"v":0.62},{"t":0.749,"v":0.65},
      {"t":0.750,"v":0.68},{"t":0.751,"v":0.71},{"t":0.752,"v":0.73},{"t":0.753,"v":0.76},{"t":0.754,"v":0.78},{"t":0.755,"v":0.80},{"t":0.756,"v":0.82},{"t":0.757,"v":0.83},{"t":0.758,"v":0.84},{"t":0.759,"v":0.85},
      {"t":0.760,"v":0.85},{"t":0.761,"v":0.83},{"t":0.762,"v":0.78},{"t":0.763,"v":0.69},{"t":0.764,"v":0.57},{"t":0.765,"v":0.41},{"t":0.766,"v":0.24},{"t":0.767,"v":0.04},{"t":0.768,"v":-0.17},{"t":0.769,"v":-0.40},
      {"t":0.770,"v":-0.63},{"t":0.771,"v":-0.86},{"t":0.772,"v":-1.08},{"t":0.773,"v":-1.29},{"t":0.774,"v":-1.49},{"t":0.775,"v":-1.66},{"t":0.776,"v":-1.82},{"t":0.777,"v":-1.93},{"t":0.778,"v":-2.03},{"t":0.779,"v":-2.08},
      {"t":0.780,"v":-2.10},{"t":0.781,"v":-2.09},{"t":0.782,"v":-2.07},{"t":0.783,"v":-2.03},{"t":0.784,"v":-1.98},{"t":0.785,"v":-1.91},{"t":0.786,"v":-1.83},{"t":0.787,"v":-1.74},{"t":0.788,"v":-1.65},{"t":0.789,"v":-1.55},
      {"t":0.790,"v":-1.45},{"t":0.791,"v":-1.35},{"t":0.792,"v":-1.25},{"t":0.793,"v":-1.16},{"t":0.794,"v":-1.07},{"t":0.795,"v":-0.99},{"t":0.796,"v":-0.92},{"t":0.797,"v":-0.87},{"t":0.798,"v":-0.83},{"t":0.799,"v":-0.81},
      {"t":0.800,"v":-0.80},{"t":0.801,"v":-0.81},{"t":0.802,"v":-0.83},{"t":0.803,"v":-0.87},{"t":0.804,"v":-0.93},{"t":0.805,"v":-1.01},{"t":0.806,"v":-1.09},{"t":0.807,"v":-1.18},{"t":0.808,"v":-1.28},{"t":0.809,"v":-1.39},
      {"t":0.810,"v":-1.50},{"t":0.811,"v":-1.61},{"t":0.812,"v":-1.72},{"t":0.813,"v":-1.82},{"t":0.814,"v":-1.91},{"t":0.815,"v":-1.99},{"t":0.816,"v":-2.07},{"t":0.817,"v":-2.12},{"t":0.818,"v":-2.17},{"t":0.819,"v":-2.19},
      {"t":0.820,"v":-2.20},{"t":0.821,"v":-2.18},{"t":0.822,"v":-2.14},{"t":0.823,"v":-2.06},{"t":0.824,"v":-1.96},{"t":0.825,"v":-1.83},{"t":0.826,"v":-1.68},{"t":0.827,"v":-1.51},{"t":0.828,"v":-1.33},{"t":0.829,"v":-1.14},
      {"t":0.830,"v":-0.94},{"t":0.831,"v":-0.74},{"t":0.832,"v":-0.54},{"t":0.833,"v":-0.36},{"t":0.834,"v":-0.19},{"t":0.835,"v":-0.05},{"t":0.836,"v":0.09},{"t":0.837,"v":0.18},{"t":0.838,"v":0.27},{"t":0.839,"v":0.31},
      {"t":0.840,"v":0.33},{"t":0.841,"v":0.33},{"t":0.842,"v":0.31},{"t":0.843,"v":0.28},{"t":0.844,"v":0.25},{"t":0.845,"v":0.21},{"t":0.846,"v":0.16},{"t":0.847,"v":0.10},{"t":0.848,"v":0.04},{"t":0.849,"v":-0.03},
      {"t":0.850,"v":-0.09},{"t":0.851,"v":-0.15},{"t":0.852,"v":-0.21},{"t":0.853,"v":-0.27},{"t":0.854,"v":-0.33},{"t":0.855,"v":-0.38},{"t":0.856,"v":-0.42},{"t":0.857,"v":-0.45},{"t":0.858,"v":-0.48},{"t":0.859,"v":-0.49},
      {"t":0.860,"v":-0.50},{"t":0.861,"v":-0.48},{"t":0.862,"v":-0.43},{"t":0.863,"v":-0.34},{"t":0.864,"v":-0.24},{"t":0.865,"v":-0.09},{"t":0.866,"v":0.07},{"t":0.867,"v":0.26},{"t":0.868,"v":0.45},{"t":0.869,"v":0.67},
      {"t":0.870,"v":0.88},{"t":0.871,"v":1.09},{"t":0.872,"v":1.30},{"t":0.873,"v":1.49},{"t":0.874,"v":1.68},{"t":0.875,"v":1.84},{"t":0.876,"v":1.99},{"t":0.877,"v":2.09},{"t":0.878,"v":2.18},{"t":0.879,"v":2.23},
      {"t":0.880,"v":2.25},{"t":0.881,"v":2.24},{"t":0.882,"v":2.22},{"t":0.883,"v":2.18},{"t":0.884,"v":2.13},{"t":0.885,"v":2.06},{"t":0.886,"v":1.99},{"t":0.887,"v":1.91},{"t":0.888,"v":1.82},{"t":0.889,"v":1.73},
      {"t":0.890,"v":1.63},{"t":0.891,"v":1.53},{"t":0.892,"v":1.43},{"t":0.893,"v":1.35},{"t":0.894,"v":1.26},{"t":0.895,"v":1.19},{"t":0.896,"v":1.12},{"t":0.897,"v":1.08},{"t":0.898,"v":1.03},{"t":0.899,"v":1.01},
      {"t":0.900,"v":1.00},{"t":0.901,"v":1.01},{"t":0.902,"v":1.03},{"t":0.903,"v":1.07},{"t":0.904,"v":1.11},{"t":0.905,"v":1.17},{"t":0.906,"v":1.23},{"t":0.907,"v":1.31},{"t":0.908,"v":1.39},{"t":0.909,"v":1.48},
      {"t":0.910,"v":1.57},{"t":0.911,"v":1.66},{"t":0.912,"v":1.75},{"t":0.913,"v":1.83},{"t":0.914,"v":1.90},{"t":0.915,"v":1.97},{"t":0.916,"v":2.03},{"t":0.917,"v":2.07},{"t":0.918,"v":2.11},{"t":0.919,"v":2.13},
      {"t":0.920,"v":2.14},{"t":0.921,"v":2.12},{"t":0.922,"v":2.07},{"t":0.923,"v":1.98},{"t":0.924,"v":1.87},{"t":0.925,"v":1.72},{"t":0.926,"v":1.55},{"t":0.927,"v":1.36},{"t":0.928,"v":1.16},{"t":0.929,"v":0.94},
      {"t":0.930,"v":0.72},{"t":0.931,"v":0.50},{"t":0.932,"v":0.28},{"t":0.933,"v":0.09},{"t":0.934,"v":-0.11},{"t":0.935,"v":-0.27},{"t":0.936,"v":-0.43},{"t":0.937,"v":-0.53},{"t":0.938,"v":-0.63},{"t":0.939,"v":-0.68},
      {"t":0.940,"v":-0.70},{"t":0.941,"v":-0.70},{"t":0.942,"v":-0.68},{"t":0.943,"v":-0.65},{"t":0.944,"v":-0.61},{"t":0.945,"v":-0.56},{"t":0.946,"v":-0.51},{"t":0.947,"v":-0.45},{"t":0.948,"v":-0.38},{"t":0.949,"v":-0.31},
      {"t":0.950,"v":-0.24},{"t":0.951,"v":-0.17},{"t":0.952,"v":-0.10},{"t":0.953,"v":-0.04},{"t":0.954,"v":0.03},{"t":0.955,"v":0.08},{"t":0.956,"v":0.13},{"t":0.957,"v":0.17},{"t":0.958,"v":0.20},{"t":0.959,"v":0.21},
      {"t":0.960,"v":0.22},{"t":0.961,"v":0.20},{"t":0.962,"v":0.16},{"t":0.963,"v":0.07},{"t":0.964,"v":-0.03},{"t":0.965,"v":-0.17},{"t":0.966,"v":-0.31},{"t":0.967,"v":-0.49},{"t":0.968,"v":-0.67},{"t":0.969,"v":-0.87},
      {"t":0.970,"v":-1.07},{"t":0.971,"v":-1.27},{"t":0.972,"v":-1.47},{"t":0.973,"v":-1.65},{"t":0.974,"v":-1.83},{"t":0.975,"v":-1.97},{"t":0.976,"v":-2.11},{"t":0.977,"v":-2.21},{"t":0.978,"v":-2.30},{"t":0.979,"v":-2.34},
      {"t":0.980,"v":-2.36},{"t":0.981,"v":-2.35},{"t":0.982,"v":-2.32},{"t":0.983,"v":-2.27},{"t":0.984,"v":-2.22},{"t":0.985,"v":-2.14},{"t":0.986,"v":-2.06},{"t":0.987,"v":-1.96},{"t":0.988,"v":-1.86},{"t":0.989,"v":-1.75},
      {"t":0.990,"v":-1.63},{"t":0.991,"v":-1.52},{"t":0.992,"v":-1.40},{"t":0.993,"v":-1.30},{"t":0.994,"v":-1.20},{"t":0.995,"v":-1.12},{"t":0.996,"v":-1.04},{"t":0.997,"v":-0.99},{"t":0.998,"v":-0.94},{"t":0.999,"v":-0.92},
      {"t":1.000,"v":-0.90}
    ]
  },
  "vconcat": [
    {
      "width": 446,
      "height": 363,
      "view": {"stroke": null},
      "title": {"text": "Time, sec", "subtitle": "(a)", "orient": "bottom", "frame": "group", "anchor": "middle", "align": "left", "dx": -40, "offset": 7},
      "layer": [
        {
          "data": {"values": [{}]},
          "mark": {"type": "rule", "color": "black", "strokeWidth": 1.5},
          "encoding": {"y": {"datum": 2, "type": "quantitative", "scale": {"domain": [-6, 2]}}}
        },
        {
          "data": {"values": [{}]},
          "mark": {"type": "rule", "color": "black", "strokeWidth": 1.5},
          "encoding": {"y": {"datum": -6, "type": "quantitative", "scale": {"domain": [-6, 2]}}}
        },
        {
          "data": {"name": "a"},
          "mark": {"type": "line", "color": "black", "strokeWidth": 1.5},
          "encoding": {
            "x": {"field": "t", "type": "quantitative", "scale": {"domain": [0, 1], "nice": false},
                  "axis": {"values": [0, 0.2, 0.4, 0.6, 0.8], "labelExpr": "'' + datum.value", "title": null, "offset": -272.25}},
            "y": {"field": "v", "type": "quantitative", "scale": {"domain": [-6, 2], "nice": false},
                  "axis": {"values": [-6, -5, -4, -3, -2, -1, 0, 1, 2], "labelExpr": "'' + datum.value", "title": "Stress, MPa"}}
          }
        },
        {
          "data": {"name": "a"},
          "mark": {"type": "point", "filled": false, "color": "black", "size": 38, "strokeWidth": 1, "opacity": 1},
          "encoding": {
            "x": {"field": "t", "type": "quantitative"},
            "y": {"field": "v", "type": "quantitative"},
            "shape": {
              "datum": "Quasi-Static Analysis", "type": "nominal",
              "scale": {"domain": ["Direct Transient Analysis", "Quasi-Static Analysis"], "range": ["M-3.3,0L3.3,0", "circle"]},
              "legend": {"title": null, "legendX": 149, "legendY": 280}
            }
          }
        }
      ]
    },
    {
      "width": 444,
      "height": 361,
      "title": {"text": "Time, sec", "subtitle": "(b)", "orient": "bottom", "frame": "group", "anchor": "middle", "align": "left", "dx": -39, "offset": 8},
      "layer": [
        {
          "data": {"name": "bd"},
          "mark": {"type": "line", "color": "black", "strokeWidth": 1.5},
          "encoding": {
            "x": {"field": "t", "type": "quantitative", "scale": {"domain": [0, 1], "nice": false},
                  "axis": {"values": [0, 0.2, 0.4, 0.6, 0.8], "labelExpr": "'' + datum.value", "title": null, "offset": -180.5}},
            "y": {"field": "v", "type": "quantitative", "scale": {"domain": [-4, 4], "nice": false},
                  "axis": {"values": [-4, -3, -2, -1, 0, 1, 2, 3, 4], "labelExpr": "'' + datum.value", "title": "Stress, MPa"}}
          }
        },
        {
          "data": {"name": "bq"},
          "mark": {"type": "point", "filled": false, "color": "black", "size": 45, "strokeWidth": 1, "opacity": 1},
          "encoding": {
            "x": {"field": "t", "type": "quantitative"},
            "y": {"field": "v", "type": "quantitative"},
            "shape": {
              "datum": "Quasi-Static Analysis", "type": "nominal",
              "scale": {"domain": ["Direct Transient Analysis", "Quasi-Static Analysis"], "range": ["M-3.3,0L3.3,0", "circle"]},
              "legend": {"title": null, "legendX": 147, "legendY": 281}
            }
          }
        }
      ]
    }
  ]
}
